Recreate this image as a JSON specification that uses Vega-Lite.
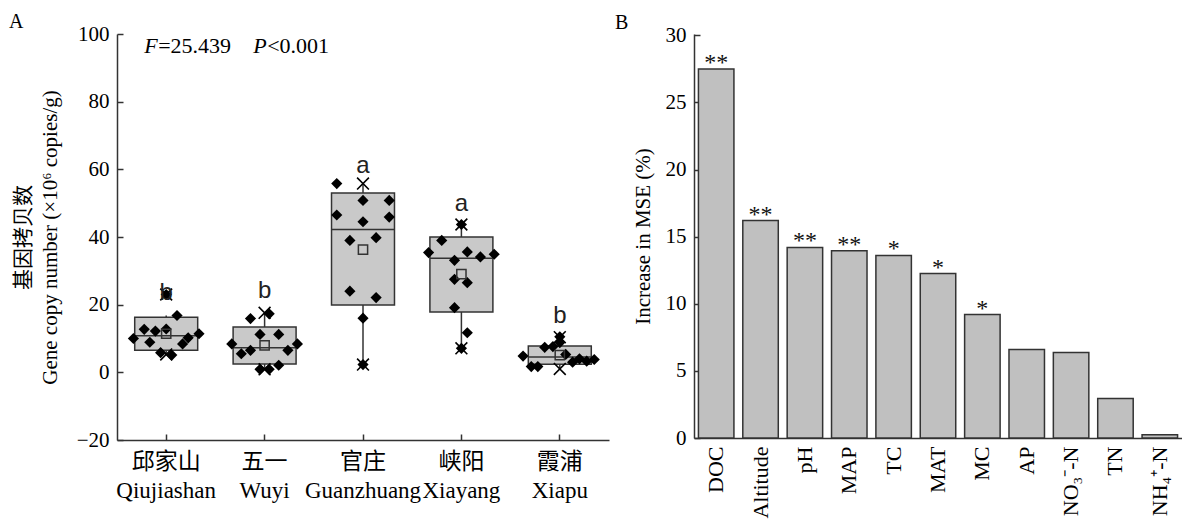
{
  "$schema": "https://vega.github.io/schema/vega-lite/v6.json",
  "autosize": {"type": "pad"},
  "padding": {"left": 9, "top": 12, "right": 0, "bottom": 0},
  "background": "white",
  "bounds": "flush",
  "spacing": 85,
  "config": {
    "view": {"stroke": null},
    "font": "Liberation Serif",
    "axis": {
      "labelFont": "Liberation Serif, Noto Sans CJK SC",
      "labelFontSize": 21,
      "labelColor": "#000",
      "titleFont": "Liberation Serif, Noto Sans CJK SC",
      "titleFontSize": 21,
      "titleFontWeight": "normal",
      "titleColor": "#000",
      "domainColor": "#333",
      "domainWidth": 1.5,
      "tickColor": "#333",
      "tickWidth": 1.5,
      "grid": false
    },
    "title": {"font": "Liberation Serif", "fontSize": 20, "fontWeight": "normal", "color": "#000"}
  },
  "datasets": {
    "pts": [
      {"site": "邱家山|Qiujiashan", "j": -1, "v": 10.0},
      {"site": "邱家山|Qiujiashan", "j": -0.67, "v": 12.7},
      {"site": "邱家山|Qiujiashan", "j": -0.5, "v": 8.9},
      {"site": "邱家山|Qiujiashan", "j": -0.33, "v": 12.2},
      {"site": "邱家山|Qiujiashan", "j": -0.17, "v": 5.8},
      {"site": "邱家山|Qiujiashan", "j": 0, "v": 12.8},
      {"site": "邱家山|Qiujiashan", "j": 0, "v": 23.0},
      {"site": "邱家山|Qiujiashan", "j": 0.17, "v": 5.1},
      {"site": "邱家山|Qiujiashan", "j": 0.33, "v": 16.8},
      {"site": "邱家山|Qiujiashan", "j": 0.5, "v": 8.4},
      {"site": "邱家山|Qiujiashan", "j": 0.67, "v": 10.2},
      {"site": "邱家山|Qiujiashan", "j": 1, "v": 11.4},
      {"site": "五一|Wuyi", "j": -1, "v": 8.4},
      {"site": "五一|Wuyi", "j": -0.71, "v": 5.5},
      {"site": "五一|Wuyi", "j": -0.43, "v": 15.9},
      {"site": "五一|Wuyi", "j": -0.43, "v": 6.5},
      {"site": "五一|Wuyi", "j": -0.14, "v": 11.2},
      {"site": "五一|Wuyi", "j": -0.14, "v": 0.9},
      {"site": "五一|Wuyi", "j": 0.14, "v": 17.3},
      {"site": "五一|Wuyi", "j": 0.14, "v": 0.9},
      {"site": "五一|Wuyi", "j": 0.43, "v": 11.2},
      {"site": "五一|Wuyi", "j": 0.43, "v": 2.1},
      {"site": "五一|Wuyi", "j": 0.71, "v": 6.5},
      {"site": "五一|Wuyi", "j": 1, "v": 8.4},
      {"site": "官庄|Guanzhuang", "j": -0.8, "v": 55.8},
      {"site": "官庄|Guanzhuang", "j": 0, "v": 50.8},
      {"site": "官庄|Guanzhuang", "j": 0.8, "v": 50.8},
      {"site": "官庄|Guanzhuang", "j": -0.8, "v": 46.5},
      {"site": "官庄|Guanzhuang", "j": 0, "v": 44.5},
      {"site": "官庄|Guanzhuang", "j": 0.8, "v": 45.9},
      {"site": "官庄|Guanzhuang", "j": -0.4, "v": 39.0},
      {"site": "官庄|Guanzhuang", "j": 0.4, "v": 39.8},
      {"site": "官庄|Guanzhuang", "j": -0.4, "v": 24.0},
      {"site": "官庄|Guanzhuang", "j": 0.4, "v": 22.1},
      {"site": "官庄|Guanzhuang", "j": 0, "v": 16.0},
      {"site": "官庄|Guanzhuang", "j": 0, "v": 2.3},
      {"site": "峡阳|Xiayang", "j": 0, "v": 43.7},
      {"site": "峡阳|Xiayang", "j": -0.6, "v": 39.0},
      {"site": "峡阳|Xiayang", "j": -1, "v": 35.4},
      {"site": "峡阳|Xiayang", "j": 0.18, "v": 35.6},
      {"site": "峡阳|Xiayang", "j": 0.58, "v": 34.1},
      {"site": "峡阳|Xiayang", "j": 1, "v": 34.9},
      {"site": "峡阳|Xiayang", "j": -0.21, "v": 33.1},
      {"site": "峡阳|Xiayang", "j": -0.21, "v": 27.5},
      {"site": "峡阳|Xiayang", "j": 0.18, "v": 26.5},
      {"site": "峡阳|Xiayang", "j": -0.21, "v": 19.1},
      {"site": "峡阳|Xiayang", "j": 0.18, "v": 11.7},
      {"site": "峡阳|Xiayang", "j": 0, "v": 7.1},
      {"site": "霞浦|Xiapu", "j": -1.12, "v": 4.8},
      {"site": "霞浦|Xiapu", "j": -0.87, "v": 1.7},
      {"site": "霞浦|Xiapu", "j": -0.67, "v": 1.7},
      {"site": "霞浦|Xiapu", "j": -0.46, "v": 7.4},
      {"site": "霞浦|Xiapu", "j": -0.21, "v": 7.6},
      {"site": "霞浦|Xiapu", "j": 0, "v": 10.5},
      {"site": "霞浦|Xiapu", "j": 0, "v": 8.8},
      {"site": "霞浦|Xiapu", "j": 0.18, "v": 5.3},
      {"site": "霞浦|Xiapu", "j": 0.39, "v": 3.0},
      {"site": "霞浦|Xiapu", "j": 0.6, "v": 4.0},
      {"site": "霞浦|Xiapu", "j": 0.82, "v": 3.3},
      {"site": "霞浦|Xiapu", "j": 1.05, "v": 3.8}
    ],
    "box": [
      {"site": "邱家山|Qiujiashan", "q1": 6.5, "med": 10.8, "q3": 16.3, "wlo": 5.1, "whi": 16.8, "mean": 11.4, "xlo": 5.3, "xhi": 23.0, "sig": "b", "lab": 21.3},
      {"site": "五一|Wuyi", "q1": 2.5, "med": 7.3, "q3": 13.4, "wlo": 0.9, "whi": 17.6, "mean": 8.0, "xlo": 0.9, "xhi": 17.6, "sig": "b", "lab": 22.0},
      {"site": "官庄|Guanzhuang", "q1": 19.9, "med": 42.2, "q3": 53.0, "wlo": 2.3, "whi": 55.8, "mean": 36.3, "xlo": 2.3, "xhi": 55.8, "sig": "a", "lab": 59.0},
      {"site": "峡阳|Xiayang", "q1": 17.8, "med": 33.7, "q3": 40.0, "wlo": 7.1, "whi": 43.7, "mean": 29.0, "xlo": 7.1, "xhi": 43.7, "sig": "a", "lab": 47.7},
      {"site": "霞浦|Xiapu", "q1": 2.4, "med": 4.5, "q3": 7.8, "wlo": 1.0, "whi": 10.4, "mean": 5.1, "xlo": 1.0, "xhi": 10.4, "sig": "b", "lab": 14.6}
    ],
    "stat": [
      {"site": "邱家山|Qiujiashan", "y": 94.4}
    ],
    "imp": [
      {"var": "DOC", "inc": 27.5, "star": "**"},
      {"var": "Altitude", "inc": 16.2, "star": "**"},
      {"var": "pH", "inc": 14.2, "star": "**"},
      {"var": "MAP", "inc": 13.95, "star": "**"},
      {"var": "TC", "inc": 13.6, "star": "*"},
      {"var": "MAT", "inc": 12.25, "star": "*"},
      {"var": "MC", "inc": 9.2, "star": "*"},
      {"var": "AP", "inc": 6.6, "star": ""},
      {"var": "NO₃⁻-N", "inc": 6.37, "star": ""},
      {"var": "TN", "inc": 2.95, "star": ""},
      {"var": "NH₄⁺-N", "inc": 0.25, "star": ""}
    ]
  },
  "hconcat": [
    {
      "width": 492,
      "height": 406,
      "title": {"text": "A", "anchor": "start", "frame": "group", "dx": -108, "offset": -25, "baseline": "alphabetic"},
      "resolve": {"scale": {"xOffset": "independent"}},
      "layer": [
        {
          "data": {"name": "box"},
          "mark": {"type": "rule", "color": "#333", "strokeWidth": 1.5},
          "encoding": {
            "x": {
              "field": "site", "type": "nominal",
              "scale": {"domain": ["邱家山|Qiujiashan", "五一|Wuyi", "官庄|Guanzhuang", "峡阳|Xiayang", "霞浦|Xiapu"], "paddingInner": 0, "paddingOuter": 0},
              "axis": {"title": null, "labelAngle": 0, "labelExpr": "split(datum.label, '|')", "labelFontSize": 23, "labelLineHeight": 29, "labelBaseline": "top", "tickSize": -6, "labelPadding": 16}
            },
            "y": {
              "field": "wlo", "type": "quantitative",
              "scale": {"domain": [-20, 100], "nice": false, "zero": false},
              "axis": {"values": [-20, 0, 20, 40, 60, 80, 100], "format": "d", "tickSize": -6, "labelPadding": 14, "title": ["基因拷贝数", "Gene copy number (×10⁶ copies/g)"], "titleLineHeight": 27, "titlePadding": 16}
            },
            "y2": {"field": "whi"}
          }
        },
        {
          "data": {"name": "box"},
          "mark": {"type": "bar", "fill": "#c9c9c9", "stroke": "#333", "strokeWidth": 1.5, "width": {"band": 0.64}},
          "encoding": {
            "x": {"field": "site", "type": "nominal"},
            "y": {"field": "q1", "type": "quantitative"},
            "y2": {"field": "q3"}
          }
        },
        {
          "data": {"name": "box"},
          "mark": {"type": "tick", "color": "#333", "size": 63, "thickness": 1.5, "opacity": 1},
          "encoding": {
            "x": {"field": "site", "type": "nominal"},
            "y": {"field": "med", "type": "quantitative"}
          }
        },
        {
          "data": {"name": "pts"},
          "mark": {"type": "point", "shape": "diamond", "filled": true, "color": "#000", "size": 125, "opacity": 1},
          "encoding": {
            "x": {"field": "site", "type": "nominal"},
            "xOffset": {"field": "j", "type": "quantitative", "scale": {"domain": [-1.5, 1.5]}},
            "y": {"field": "v", "type": "quantitative"}
          }
        },
        {
          "data": {"name": "box"},
          "mark": {"type": "point", "shape": "square", "filled": false, "stroke": "#333", "strokeWidth": 1.5, "size": 85, "opacity": 1},
          "encoding": {
            "x": {"field": "site", "type": "nominal"},
            "y": {"field": "mean", "type": "quantitative"}
          }
        },
        {
          "data": {"name": "box"},
          "mark": {"type": "point", "shape": "M-1,-1L1,1M-1,1L1,-1", "filled": false, "stroke": "#000", "strokeWidth": 1.6, "size": 140, "opacity": 1},
          "encoding": {
            "x": {"field": "site", "type": "nominal"},
            "y": {"field": "xhi", "type": "quantitative"}
          }
        },
        {
          "data": {"name": "box"},
          "mark": {"type": "point", "shape": "M-1,-1L1,1M-1,1L1,-1", "filled": false, "stroke": "#000", "strokeWidth": 1.6, "size": 140, "opacity": 1},
          "encoding": {
            "x": {"field": "site", "type": "nominal"},
            "y": {"field": "xlo", "type": "quantitative"}
          }
        },
        {
          "data": {"name": "box"},
          "mark": {"type": "text", "font": "Liberation Sans", "fontSize": 24, "color": "#222", "baseline": "alphabetic"},
          "encoding": {
            "x": {"field": "site", "type": "nominal"},
            "y": {"field": "lab", "type": "quantitative"},
            "text": {"field": "sig"}
          }
        },
        {
          "data": {"name": "stat"},
          "mark": {"type": "text", "text": "F", "fontStyle": "italic", "font": "Liberation Serif", "fontSize": 22, "align": "left", "baseline": "alphabetic", "dx": -22, "color": "#000"},
          "encoding": {"x": {"field": "site", "type": "nominal"}, "y": {"field": "y", "type": "quantitative"}}
        },
        {
          "data": {"name": "stat"},
          "mark": {"type": "text", "text": "=25.439", "font": "Liberation Serif", "fontSize": 22, "align": "left", "baseline": "alphabetic", "dx": -8, "color": "#000"},
          "encoding": {"x": {"field": "site", "type": "nominal"}, "y": {"field": "y", "type": "quantitative"}}
        },
        {
          "data": {"name": "stat"},
          "mark": {"type": "text", "text": "P", "fontStyle": "italic", "font": "Liberation Serif", "fontSize": 22, "align": "left", "baseline": "alphabetic", "dx": 87, "color": "#000"},
          "encoding": {"x": {"field": "site", "type": "nominal"}, "y": {"field": "y", "type": "quantitative"}}
        },
        {
          "data": {"name": "stat"},
          "mark": {"type": "text", "text": "<0.001", "font": "Liberation Serif", "fontSize": 22, "align": "left", "baseline": "alphabetic", "dx": 101, "color": "#000"},
          "encoding": {"x": {"field": "site", "type": "nominal"}, "y": {"field": "y", "type": "quantitative"}}
        }
      ]
    },
    {
      "width": 488,
      "height": 404,
      "title": {"text": "B", "anchor": "start", "frame": "group", "dx": -79, "offset": -25, "baseline": "alphabetic"},
      "data": {"name": "imp"},
      "layer": [
        {
          "mark": {"type": "bar", "fill": "#c0c0c0", "stroke": "#333", "strokeWidth": 1.5},
          "encoding": {
            "x": {
              "field": "var", "type": "nominal", "sort": null,
              "scale": {"paddingInner": 0.2, "paddingOuter": 0.1},
              "axis": {"title": null, "labelAngle": -90, "ticks": false, "labelPadding": 8, "labelFontSize": 22}
            },
            "y": {
              "field": "inc", "type": "quantitative",
              "scale": {"domain": [0, 30.1], "nice": false},
              "axis": {"values": [0, 5, 10, 15, 20, 25, 30], "format": "d", "tickSize": -6, "labelPadding": 14, "title": "Increase in MSE (%)", "titlePadding": 12}
            }
          }
        },
        {
          "mark": {"type": "text", "font": "Liberation Serif", "fontSize": 24, "baseline": "alphabetic", "dy": 1, "color": "#111"},
          "encoding": {
            "x": {"field": "var", "type": "nominal", "sort": null},
            "y": {"field": "inc", "type": "quantitative"},
            "text": {"field": "star"}
          }
        }
      ]
    }
  ]
}
